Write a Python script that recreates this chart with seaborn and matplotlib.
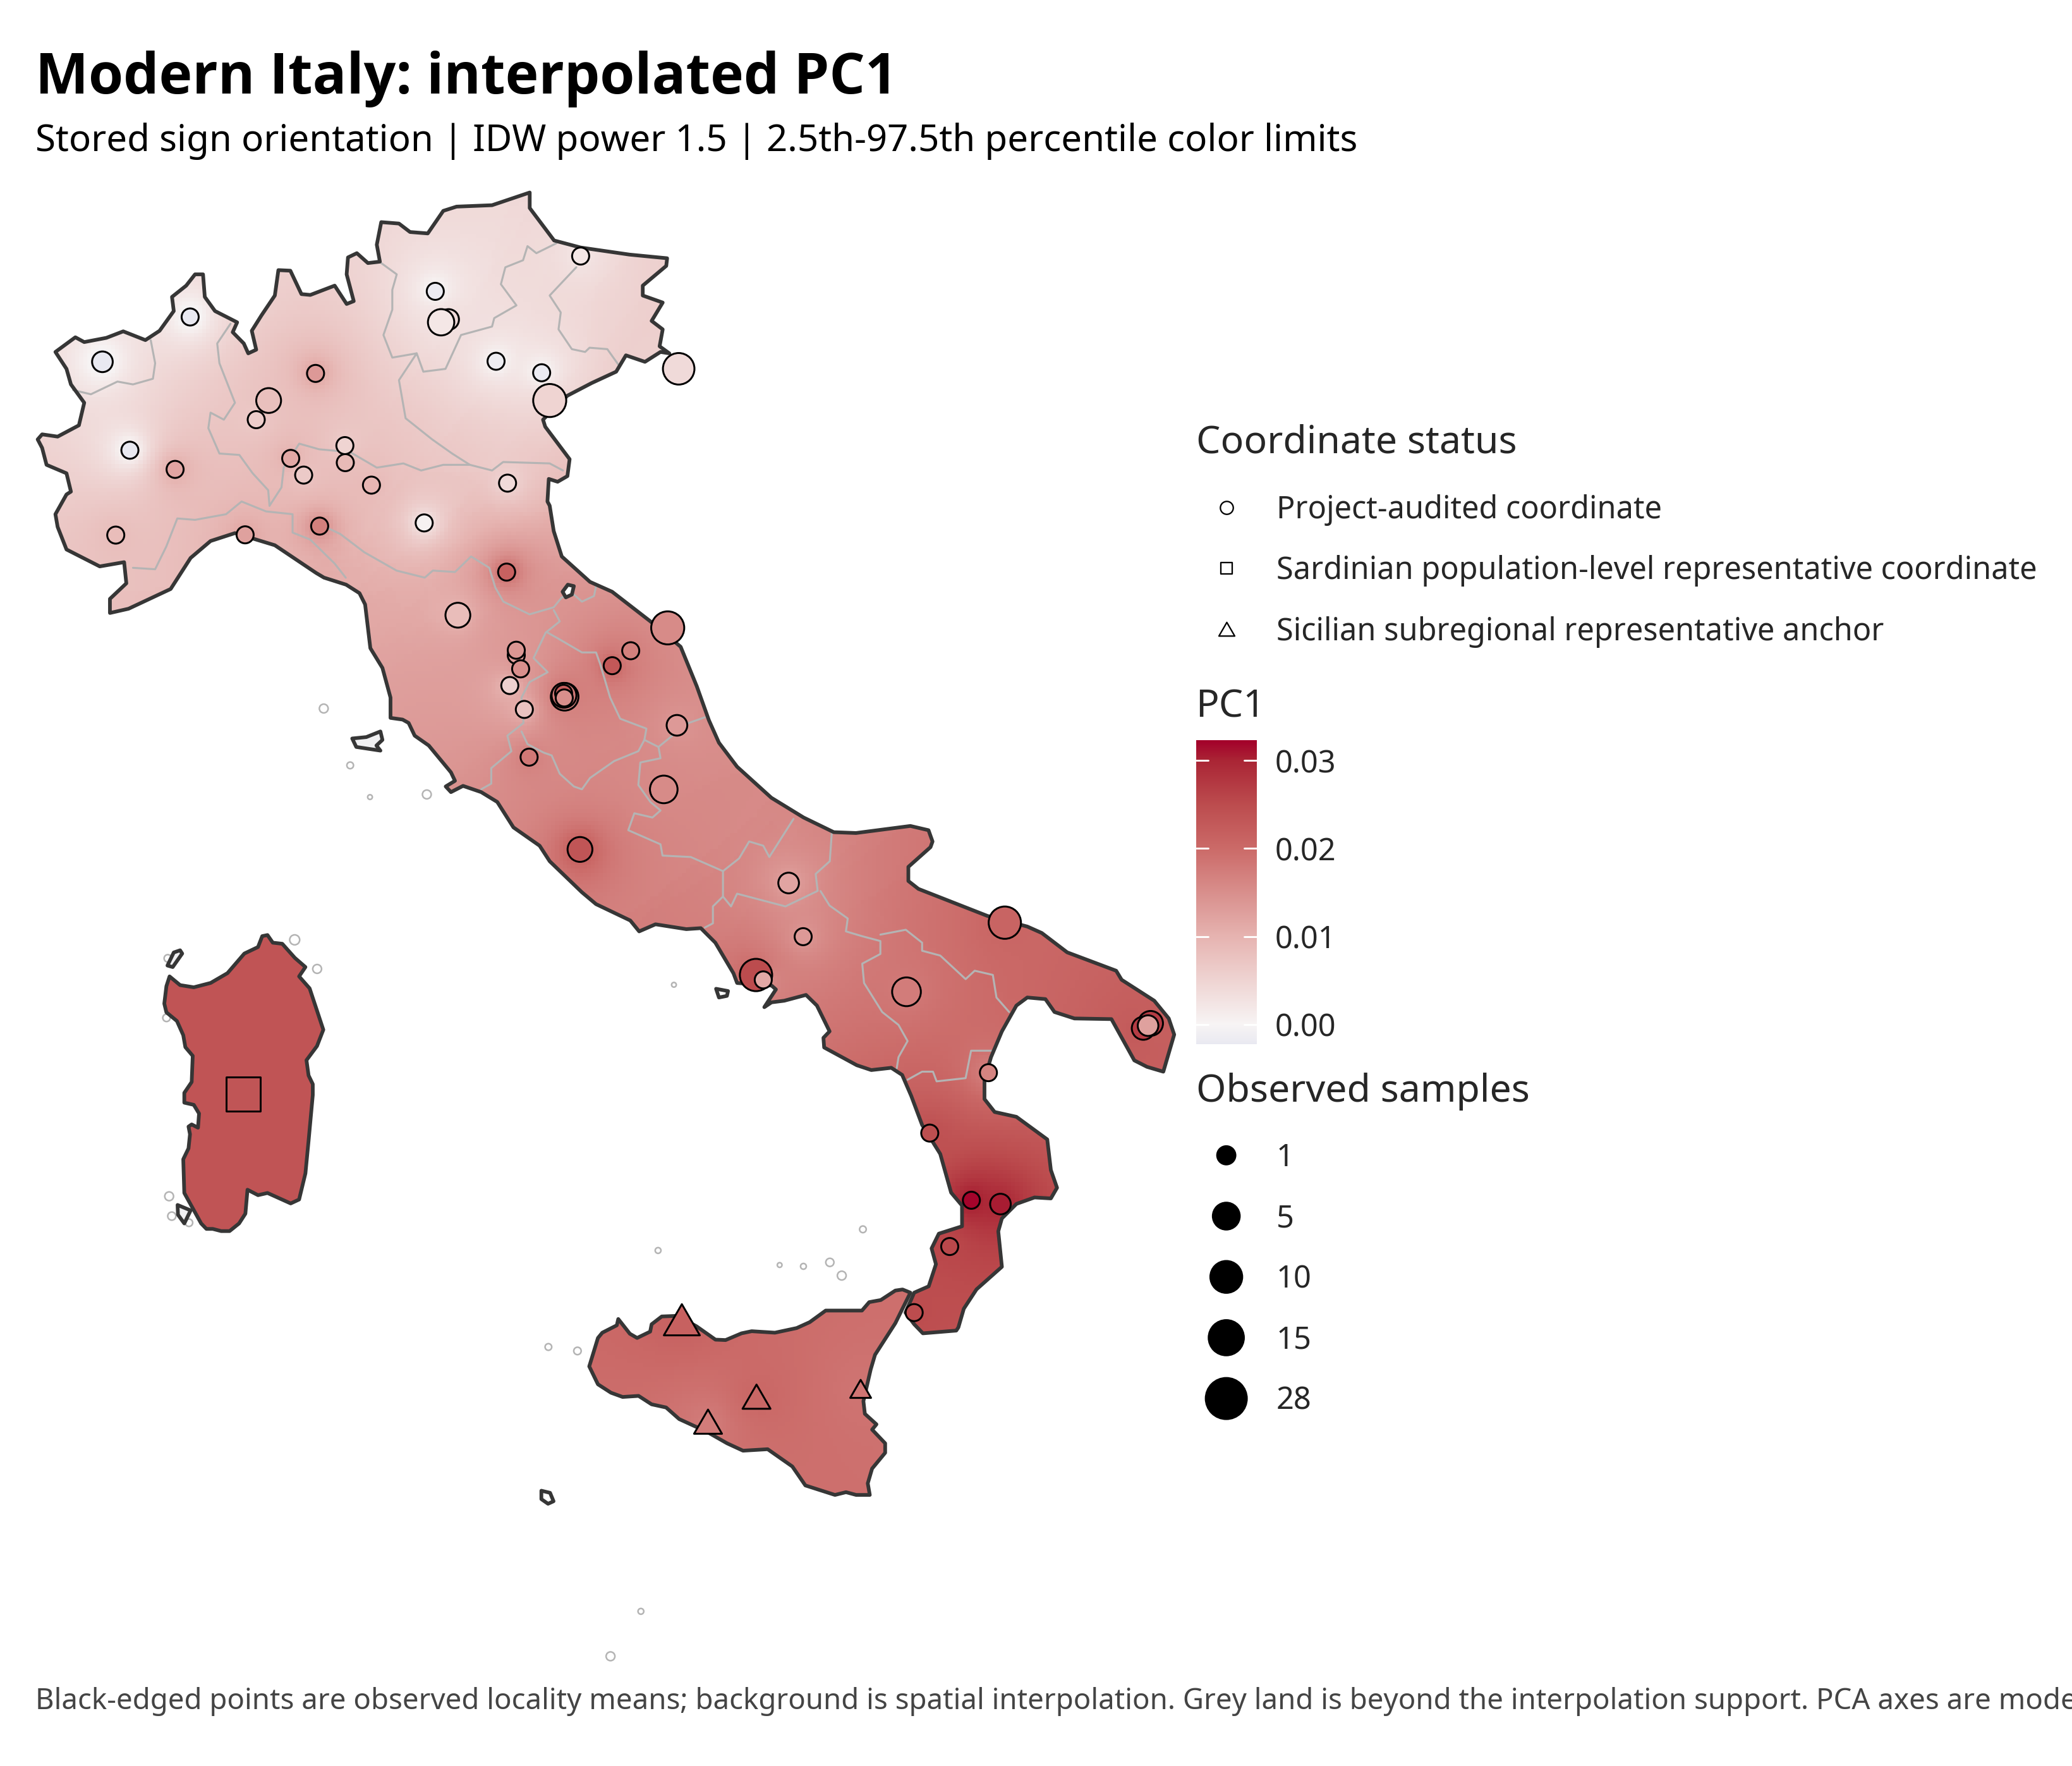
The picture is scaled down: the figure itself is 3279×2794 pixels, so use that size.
"""Modern Italy: interpolated PC1 - IDW surface over digitised land outlines."""

import numpy as np
import pandas as pd
import matplotlib
matplotlib.use('Agg')
import matplotlib.pyplot as plt
import seaborn as sns
from matplotlib.colors import LinearSegmentedColormap, Normalize
from matplotlib.patches import Polygon
from matplotlib.path import Path

# map units are 1/2.0912 of an output pixel
PX = 2.0912
WIDTH, HEIGHT = 1568.0, 1336.0

# locality means, in draw order
loc_x = [77.5, 143.9, 98.3, 132.5, 87.6, 185.5, 238.8, 203.3, 193.9, 220.0,
         229.8, 261.3, 261.0, 281.1, 241.9, 321.0, 384.1, 383.4, 329.4, 339.5,
         333.8, 375.4, 409.9, 416.0, 439.4, 513.6, 346.5, 505.3, 390.7, 390.7,
         394.0, 385.8, 396.8, 427.3, 426.8, 426.5, 427.0, 463.3, 477.3, 512.3,
         400.4, 502.3, 438.9, 596.8, 607.8, 760.4, 686.0, 572.1, 577.6, 870.7,
         865.2, 868.8, 748.0, 703.6, 735.1, 757.1, 718.7, 691.8]
loc_y = [273.7, 239.8, 340.6, 355.1, 404.8, 404.6, 282.5, 303.0, 317.5, 346.8,
         359.4, 350.0, 337.1, 367.0, 398.0, 395.6, 365.5, 432.8, 220.4, 241.7,
         243.8, 273.3, 282.0, 303.0, 193.7, 279.0, 465.4, 475.0, 495.7, 491.9,
         506.0, 518.6, 536.7, 527.1, 526.0, 524.5, 528.0, 503.6, 492.3, 548.7,
         572.8, 597.2, 642.6, 668.0, 708.6, 698.0, 750.3, 737.6, 741.3, 774.2,
         777.9, 775.9, 811.5, 857.2, 908.0, 910.9, 943.0, 993.0]
loc_n = [2, 1, 1, 1, 1, 1, 1, 4, 1, 1,
         1, 1, 1, 1, 1, 1, 1, 1, 1, 2,
         5, 1, 1, 12, 1, 10, 4, 12, 1, 1,
         1, 1, 1, 6, 4, 1, 1, 1, 1, 2,
         1, 6, 4, 2, 1, 11, 7, 11, 1, 4,
         3, 2, 1, 1, 1, 2, 1, 1]
loc_pc1 = [-0.0022, -0.0022, -0.0022, 0.012, 0.0085, 0.0125, 0.0135, 0.008, 0.006, 0.0115,
           0.0065, 0.009, 0.005, 0.0095, 0.017, 0.0005, 0.004, 0.0215, -0.0018, 0.004,
           0.002, -0.0015, -0.0018, 0.005, 0.002, 0.004, 0.0085, 0.0155, 0.013, 0.014,
           0.015, 0.0055, 0.0075, 0.017, 0.018, 0.022, 0.015, 0.023, 0.017, 0.0135,
           0.018, 0.0155, 0.0235, 0.012, 0.0135, 0.021, 0.0175, 0.025, 0.0115, 0.027,
           0.027, 0.0125, 0.0165, 0.0245, 0.032, 0.0305, 0.0255, 0.025]

sardinia_x = [184.1]
sardinia_y = [827.6]
sardinia_n = [28]
sardinia_pc1 = [0.0235]

sicily_x = [516.0, 572.5, 535.8, 651.3]
sicily_y = [998.4, 1056.6, 1075.5, 1050.7]
sicily_n = [28, 10, 10, 3]
sicily_pc1 = [0.0215, 0.0205, 0.0175, 0.0185]

# colour scale
scale_limits = (-0.00226, 0.0323)
scale_stops = [-0.00226, 0.0, 0.01, 0.02, 0.025, 0.03, 0.0323]
scale_colors = ['#E9E9F1', '#F7F4F4', '#E6B3B0', '#CB6A68', '#BC4C4E', '#AA2535', '#A3002A']
scale_ticks = [0.0, 0.01, 0.02, 0.03]

# legends
status_labels = ['Project-audited coordinate',
                 'Sardinian population-level representative coordinate',
                 'Sicilian subregional representative anchor']
sample_breaks = [1, 5, 10, 15, 28]

FRAME_A = (0, 280, 1.4255, 2.24)
FRAME_B = (500, 800, 1.568, 2.24)
FRAME_C = (1000, 1300, 1.742, 1.96)
FRAME_D = (200, 1450, 3.0, 2.904)
FRAME_E = (820, 1900, 2.178, 3.0)

north_coast = [(125, 620), (170, 568), (190, 585), (240, 570), (278, 547), (328, 578), (360, 545),
               (392, 475), (388, 425), (420, 385), (440, 345), (458, 345), (462, 425), (485, 475),
               (535, 515), (525, 550), (550, 590), (560, 625), (578, 612), (568, 545), (590, 490),
               (620, 420), (628, 330), (655, 332), (680, 415), (700, 418), (755, 385), (782, 450),
               (798, 440), (782, 345), (785, 285), (805, 270), (830, 305), (857, 300), (850, 240),
               (860, 160), (900, 165), (925, 195), (965, 200), (1000, 120), (1030, 105), (1110, 100),
               (1195, 55), (1195, 110), (1250, 225), (1310, 250), (1420, 275), (1505, 288),
               (1503, 315), (1450, 385), (1450, 420), (1495, 445), (1470, 510), (1495, 540),
               (1488, 600), (1510, 625), (1490, 620), (1455, 655), (1412, 632), (1390, 690),
               (1335, 730), (1280, 775), (1225, 860), (1230, 885), (1285, 1000), (1280, 1060),
               (1258, 1080), (1238, 1070), (1235, 1150)]
adriatic_coast = [(580, 0), (590, 90), (610, 180), (680, 270), (735, 305), (830, 410), (905, 500),
                  (945, 640), (975, 760), (1000, 840), (1045, 925), (1130, 1035), (1210, 1105),
                  (1285, 1157), (1340, 1160), (1475, 1135), (1520, 1150), (1530, 1190), (1525, 1210),
                  (1470, 1280), (1470, 1330), (1495, 1358)]
ionian_coast = [(980, 292), (1090, 325), (1130, 345), (1200, 405), (1335, 462), (1350, 490),
                (1440, 555), (1480, 610), (1495, 660), (1465, 775), (1420, 760), (1385, 740),
                (1322, 612), (1220, 610), (1165, 590), (1140, 550), (1090, 545), (1060, 570),
                (1020, 650), (990, 730), (972, 800), (972, 860), (1000, 900), (1060, 915),
                (1145, 985), (1155, 1080), (1172, 1135), (1155, 1168), (1110, 1165), (1060, 1185),
                (1020, 1230), (1010, 1270), (1020, 1380), (950, 1450), (915, 1510), (900, 1568)]
calabria_toe = [(1510, 615), (1395, 628), (1365, 585), (1335, 530), (1365, 435), (1415, 405),
                (1440, 300), (1425, 225), (1450, 155), (1530, 120)]
tyrrhenian_south = [(910, 1190), (880, 1150), (850, 1030), (800, 940), (770, 850), (745, 785),
                    (715, 763), (660, 770), (620, 755), (530, 700), (528, 670), (545, 650),
                    (510, 570), (480, 537), (420, 555), (385, 560), (365, 575), (397, 520),
                    (385, 508), (290, 500), (280, 470), (230, 375), (190, 330), (150, 333),
                    (65, 318), (20, 340)]
tyrrhenian_north = [(780, 1470), (695, 1412), (660, 1370), (580, 1260), (555, 1205), (490, 1140),
                    (450, 1050), (410, 1015), (365, 993), (335, 1015), (322, 995), (345, 975),
                    (335, 945), (280, 850), (245, 815), (230, 770), (215, 758), (185, 752),
                    (185, 680), (165, 575), (135, 505), (122, 350), (108, 310), (75, 280),
                    (20, 255), (0, 238)]
ligurian_coast = [(620, 1305), (530, 1262), (475, 1290), (430, 1350), (385, 1460), (290, 1530),
                  (248, 1545), (248, 1495), (285, 1440), (280, 1365), (225, 1380), (150, 1320),
                  (130, 1240), (125, 1195), (150, 1125), (160, 1115), (150, 1050), (105, 1020),
                  (95, 960), (85, 930), (95, 912), (130, 920), (178, 880), (190, 800), (160, 735),
                  (150, 680)]
sardinia_coast = [(205, 275), (255, 315), (320, 325), (400, 305), (480, 260), (560, 170), (625, 140),
                  (645, 90), (670, 85), (695, 120), (740, 125), (800, 190), (850, 232), (820, 275),
                  (870, 330), (935, 520), (905, 595), (855, 660), (865, 730), (885, 770), (885, 820),
                  (865, 1030), (850, 1180), (820, 1300), (780, 1318), (670, 1270), (625, 1280),
                  (575, 1255), (565, 1365), (535, 1410), (490, 1445), (450, 1445), (410, 1435),
                  (380, 1435), (355, 1410), (275, 1270), (270, 1115), (295, 1065), (302, 1000),
                  (295, 965), (310, 955), (340, 970), (345, 905), (320, 865), (275, 855), (275, 810),
                  (310, 760), (315, 640), (280, 600), (270, 545), (240, 480), (190, 440), (180, 400),
                  (190, 320)]
sicily_coast = [(245, 785), (275, 650), (290, 625), (340, 590), (345, 560), (385, 630), (410, 650),
                (455, 620), (460, 585), (495, 548), (550, 545), (615, 595), (680, 658), (715, 660),
                (770, 628), (805, 618), (885, 625), (960, 603), (1005, 575), (1060, 520), (1185, 520),
                (1210, 480), (1250, 470), (1300, 425), (1325, 420), (1352, 435), (1300, 580),
                (1230, 730), (1215, 800), (1190, 950), (1195, 1010), (1235, 1060), (1220, 1085),
                (1265, 1150), (1265, 1195), (1220, 1270), (1205, 1340), (1212, 1395), (1165, 1395),
                (1130, 1382), (1092, 1395), (990, 1350), (945, 1260), (860, 1178), (775, 1185),
                (720, 1150), (650, 1095), (555, 1035), (510, 980), (460, 965), (415, 925), (360, 930),
                (320, 910), (275, 870)]

# small islands with a dark coast: (points, frame, fill)
dark_islands = [
    ([(90, 825), (125, 820), (160, 800), (165, 830), (150, 850), (160, 868), (100, 855)], FRAME_B, '#F0F0F2'),
    ([(612, 305), (625, 280), (640, 285), (635, 315), (620, 325)], FRAME_B, 'white'),
    ([(232, 518), (265, 525), (262, 540), (240, 545)], FRAME_C, 'white'),
    ([(195, 225), (225, 165), (255, 155), (265, 170), (220, 232)], FRAME_D, '#F0F0F2'),
    ([(243, 1325), (305, 1350), (275, 1410), (245, 1370)], FRAME_D, '#F0F0F2'),
    ([(80, 1375), (110, 1385), (122, 1425), (103, 1437), (80, 1415)], FRAME_E, 'white'),
]

# regional borders
borders_a = [
    [(340, 578), (350, 660), (345, 715), (300, 735), (265, 725), (205, 770), (165, 755)],
    [(520, 520), (490, 590), (495, 660), (530, 800), (505, 860), (475, 835), (470, 890), (495, 980),
     (540, 985), (570, 1050), (605, 1110), (608, 1165)],
    [(300, 1385), (350, 1390), (375, 1310), (400, 1210), (440, 1215), (510, 1195), (545, 1150),
     (600, 1185), (660, 1195), (660, 1260), (700, 1285), (755, 1370), (780, 1420)],
    [(608, 1165), (635, 1100), (640, 1030), (675, 945), (720, 965), (790, 975), (850, 1030), (910, 1015),
     (950, 1040), (1000, 1020), (1060, 1020), (1110, 1040), (1135, 1010), (1240, 1015), (1270, 1040)],
    [(860, 305), (895, 345), (885, 400), (885, 470), (865, 560), (885, 640), (940, 625), (900, 720),
     (915, 855), (975, 930), (1020, 980), (1060, 1020)],
    [(940, 625), (955, 690), (1005, 680), (1040, 560), (1110, 530), (1115, 500), (1165, 455), (1130, 380),
     (1140, 320), (1180, 295), (1190, 245), (1210, 270), (1255, 235)],
    [(1300, 320), (1240, 420), (1265, 480), (1260, 540), (1290, 610), (1320, 620), (1330, 605), (1370, 610),
     (1395, 665)],
]
borders_b = [
    [(15, 70), (60, 100), (120, 165), (200, 230), (270, 255), (290, 230), (345, 235), (385, 180), (430, 220),
     (445, 290), (465, 340), (530, 385), (590, 360), (610, 325), (640, 315), (660, 340), (690, 320), (695, 285)],
    [(590, 370), (605, 410), (570, 450), (540, 540), (575, 590), (530, 625), (510, 680), (515, 770), (475, 815),
     (485, 870), (435, 930), (435, 985), (410, 1005)],
    [(510, 800), (525, 845), (565, 875), (585, 885), (605, 950), (640, 995), (660, 1005), (680, 965), (740, 905),
     (800, 870), (815, 830), (820, 790), (755, 755), (730, 680), (705, 560), (695, 520), (660, 520), (600, 470),
     (575, 450)],
    [(965, 750), (925, 770), (880, 820), (850, 855), (855, 895), (805, 910), (800, 990), (830, 1050), (855, 1080),
     (835, 1105), (790, 1090), (775, 1150), (855, 1200), (860, 1240), (930, 1245), (1010, 1295), (1050, 1250),
     (1075, 1190), (1110, 1205), (1125, 1245), (1185, 1110)],
    [(815, 830), (850, 855)],
    [(1280, 1160), (1275, 1260), (1240, 1305), (1245, 1365), (1165, 1420), (1045, 1375), (1030, 1420), (1010, 1385),
     (1010, 1295)],
    [(1010, 1385), (985, 1420), (985, 1480), (965, 1495)],
]
borders_c = [
    [(520, 215), (545, 260), (595, 300), (590, 340), (635, 355), (685, 370), (685, 410), (635, 440), (640, 500),
     (665, 545), (690, 590), (735, 630), (760, 680), (735, 730), (730, 765)],
    [(685, 350), (755, 335), (800, 375), (800, 400), (850, 415), (920, 488), (945, 462), (995, 475), (1005, 545),
     (1040, 590)],
    [(760, 800), (800, 775), (830, 775), (840, 805), (920, 795), (935, 710), (990, 710)],
]

# tiny islets drawn only in the grey outline
islet_x = [245, 265, 280, 323, 510, 498, 415, 437, 590, 608, 628, 637, 653, 485, 462,
           223, 240, 127, 126, 128, 130, 143]
islet_y = [536, 579, 603, 601, 745, 946, 1019, 1022, 957, 958, 955, 965, 930, 1219, 1253,
           711, 733, 725, 770, 905, 920, 925]
islet_s = [7, 4, 2, 7, 2, 3, 4, 5, 2, 3, 6, 7, 4, 3, 7, 9, 7, 5, 5, 7, 6, 5]


def crop_to_map(points, frame):
    x0, y0, sx, sy = frame
    pts = np.asarray(points, dtype=float)
    return np.column_stack([(x0 + pts[:, 0] / sx) / PX, (y0 + pts[:, 1] / sy) / PX])


def idw_surface(polygon, xs, ys, vals, k=28, power=1.5, step=3.0):
    """IDW on a coarse grid, k nearest points only."""
    x0, y0 = polygon.min(axis=0) - step
    x1, y1 = polygon.max(axis=0) + step
    gx = np.arange(x0, x1 + step, step)
    gy = np.arange(y0, y1 + step, step)
    xx, yy = np.meshgrid(gx, gy)
    xs, ys, vals = np.asarray(xs), np.asarray(ys), np.asarray(vals)
    dist = np.hypot(xx[..., None] - xs, yy[..., None] - ys) + 0.5
    k = min(k, len(xs))
    idx = np.argsort(dist, axis=-1)[..., :k]
    near = np.take_along_axis(dist, idx, axis=-1)
    weights = near ** -power
    z = (weights * vals[idx]).sum(axis=-1) / weights.sum(axis=-1)
    extent = (gx[0] - step / 2, gx[-1] + step / 2, gy[-1] + step / 2, gy[0] - step / 2)
    return z, extent


sns.set_theme(style='white')
plt.rcParams['font.family'] = ['Noto Sans', 'DejaVu Sans']

stops = (np.array(scale_stops) - scale_limits[0]) / (scale_limits[1] - scale_limits[0])
cmap = LinearSegmentedColormap.from_list('pc1', list(zip(stops, scale_colors)), N=512)
norm = Normalize(*scale_limits)

fig = plt.figure(figsize=(3279 / 300, 2794 / 300), dpi=300, facecolor='white')
ax = fig.add_axes([0, 0, 1, 1])
ax.set_axis_off()

mainland = np.vstack([crop_to_map(north_coast, FRAME_A), crop_to_map(adriatic_coast, FRAME_B),
                      crop_to_map(ionian_coast, FRAME_C), crop_to_map(calabria_toe, FRAME_E),
                      crop_to_map(tyrrhenian_south, FRAME_C), crop_to_map(tyrrhenian_north, FRAME_B),
                      crop_to_map(ligurian_coast, FRAME_A)])
sardinia = crop_to_map(sardinia_coast, FRAME_D)
sicily = crop_to_map(sicily_coast, FRAME_E)

COAST = '#363636'
BORDER = '#B4B4B4'

regions = [(mainland, loc_x, loc_y, loc_pc1), (sardinia, sardinia_x, sardinia_y, sardinia_pc1),
           (sicily, sicily_x, sicily_y, sicily_pc1)]
for poly, xs, ys, vals in regions:
    z, extent = idw_surface(poly, xs, ys, vals)
    patch = Polygon(poly, closed=True, facecolor='none', edgecolor='none')
    ax.add_patch(patch)
    im = ax.imshow(z, cmap=cmap, norm=norm, extent=extent, interpolation='nearest', aspect='auto', zorder=1)
    im.set_clip_path(patch)

for pieces, frame in [(borders_a, FRAME_A), (borders_b, FRAME_B), (borders_c, FRAME_C)]:
    for piece in pieces:
        xy = crop_to_map(piece, frame)
        ax.plot(xy[:, 0], xy[:, 1], color=BORDER, lw=0.75, solid_joinstyle='round', zorder=2)

ax.scatter(islet_x, islet_y, s=np.array(islet_s) * 1.6, facecolor='none', edgecolor=BORDER, linewidth=0.6, zorder=2)

for poly in [mainland, sardinia, sicily]:
    ax.add_patch(Polygon(poly, closed=True, facecolor='none', edgecolor=COAST, lw=1.4, joinstyle='round', zorder=3))
for points, frame, fill in dark_islands:
    ax.add_patch(Polygon(crop_to_map(points, frame), closed=True, facecolor=fill, edgecolor=COAST, lw=1.4,
                         joinstyle='round', zorder=3))

# observed points, one seaborn layer per coordinate status
triangle = Path([(-1, -0.866), (1, -0.866), (0, 0.866), (-1, -0.866)], closed=True)
size_norm = (1, np.sqrt(28))
layers = [
    (loc_x, loc_y, loc_n, loc_pc1, 'o', (42, 243)),
    (sardinia_x, sardinia_y, sardinia_n, sardinia_pc1, 's', (35, 174)),
    (sicily_x, sicily_y, sicily_n, sicily_pc1, triangle, (37, 187)),
]
for xs, ys, ns, vals, marker, sizes in layers:
    df = pd.DataFrame({'x': xs, 'y': ys, 'root_n': np.sqrt(ns), 'pc1': vals})
    sns.scatterplot(data=df, x='x', y='y', hue='pc1', size='root_n', palette=cmap, hue_norm=norm,
                    sizes=sizes, size_norm=size_norm, marker=marker, edgecolor='black', linewidth=0.72,
                    legend=False, zorder=4, ax=ax)

# titles
ax.text(27, 60, 'Modern Italy: interpolated PC1', fontsize=21.4, fontweight='bold', family=['Open Sans', 'Noto Sans'],
        va='center', color='black')
ax.text(27, 107, 'Stored sign orientation | IDW power 1.5 | 2.5th-97.5th percentile color limits',
        fontsize=13.96, va='center', color='black')
ax.text(27, 1287, 'Black-edged points are observed locality means; background is spatial interpolation. '
        'Grey land is beyond the interpolation support. PCA axes are model-based summaries.',
        fontsize=10.95, va='center', color='#444444', clip_on=False)

# legends
KEY_X, LABEL_X, TITLE_X = 928, 966, 905
ax.text(TITLE_X, 335, 'Coordinate status', fontsize=14.6, va='center')
status_y = [384, 430, 476]
status_marks = ['o', 's', triangle]
status_s = [24, 20, 36]
for y, label, mark, s in zip(status_y, status_labels, status_marks, status_s):
    ax.scatter([KEY_X], [y], marker=mark, s=s, facecolor='white', edgecolor='black', linewidth=0.55, zorder=4)
    ax.text(LABEL_X, y + 2, label, fontsize=11.7, va='center')

ax.text(TITLE_X, 535, 'PC1', fontsize=14.6, va='center')
cax = fig.add_axes([TITLE_X / WIDTH, 1 - 790 / HEIGHT, 46 / WIDTH, 230 / HEIGHT])
cbar = fig.colorbar(plt.cm.ScalarMappable(norm=norm, cmap=cmap), cax=cax)
cbar.outline.set_visible(False)
cbar.set_ticks(scale_ticks)
cax.tick_params(length=0, labelsize=11.7, pad=7)
cax.set_yticklabels([f'{t:.2f}' for t in scale_ticks])
for t in scale_ticks:
    cax.plot([0, 0.2], [t, t], color='white', lw=0.7, transform=cax.get_yaxis_transform())
    cax.plot([0.8, 1.0], [t, t], color='white', lw=0.7, transform=cax.get_yaxis_transform())

ax.text(TITLE_X, 826, 'Observed samples', fontsize=14.6, va='center')
sample_y = [874, 920, 966, 1012, 1058]
key_df = pd.DataFrame({'x': [KEY_X] * len(sample_breaks), 'y': sample_y, 'root_n': np.sqrt(sample_breaks)})
sns.scatterplot(data=key_df, x='x', y='y', size='root_n', sizes=(48, 243), size_norm=size_norm,
                color='black', edgecolor='black', linewidth=0.72, legend=False, zorder=4, ax=ax)
for y, n in zip(sample_y, sample_breaks):
    ax.text(LABEL_X, y + 2, str(n), fontsize=11.7, va='center')
ax.set_xlim(0, WIDTH)
ax.set_ylim(HEIGHT, 0)
ax.set_xlabel('')
ax.set_ylabel('')
ax.set_axis_off()

fig.savefig('out.png', dpi=300, facecolor='white')
